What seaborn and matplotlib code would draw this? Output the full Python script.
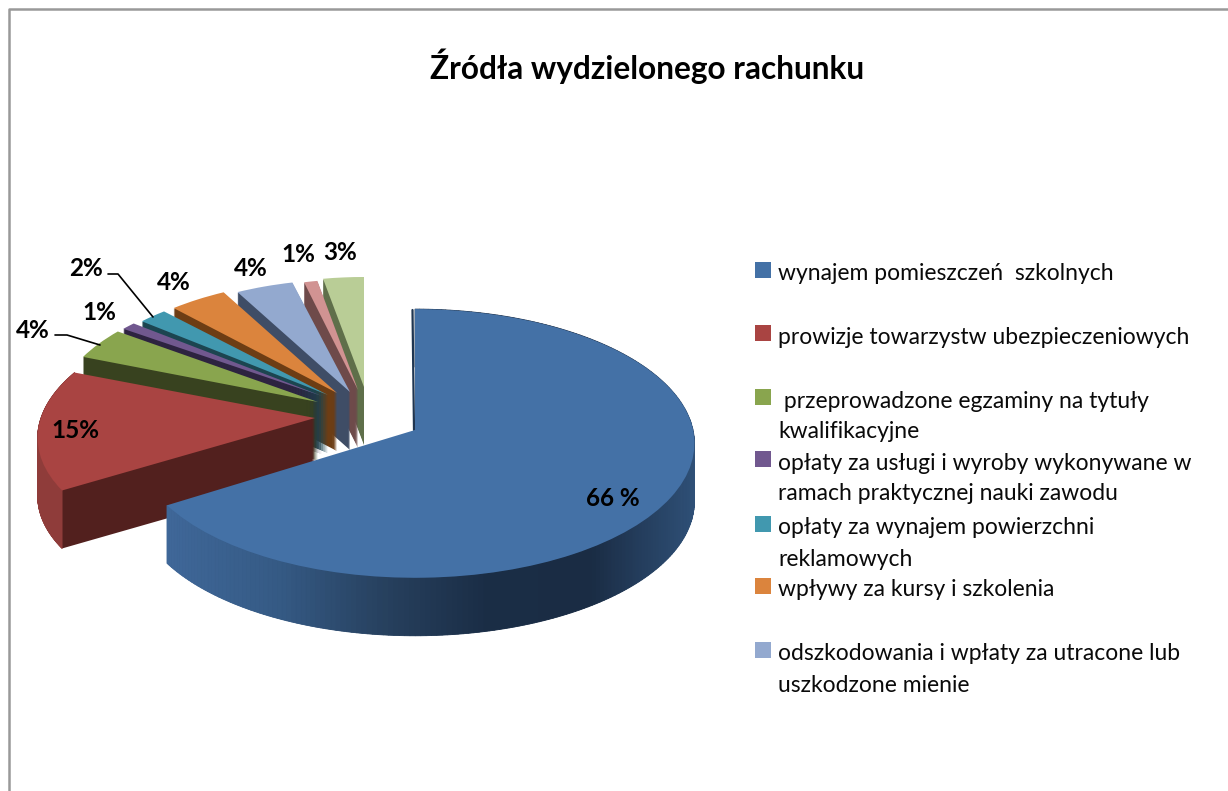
import numpy as np
import matplotlib
matplotlib.use("Agg")
import matplotlib.pyplot as plt
from matplotlib.patches import PathPatch
from matplotlib.transforms import Transform
from matplotlib.colors import LinearSegmentedColormap
import seaborn as sns

title = "Źródła wydzielonego rachunku"
values = [66, 15, 4, 1, 2, 4, 4, 1, 3]
value_labels = ["66 %", "15%", "4%", "1%", "2%", "4%", "4%", "1%", "3%"]
legend_labels = [
    "wynajem pomieszczeń  szkolnych",
    "prowizje towarzystw ubezpieczeniowych",
    " przeprowadzone egzaminy na tytuły\nkwalifikacyjne",
    "opłaty za usługi i wyroby wykonywane w\nramach praktycznej nauki zawodu",
    "opłaty za wynajem powierzchni\nreklamowych",
    "wpływy za kursy i szkolenia",
    "odszkodowania i wpłaty za utracone lub\nuszkodzone mienie",
]
top_colors = ["#4471A6", "#A94442", "#89A54E", "#71588F", "#4198AF",
              "#DB843D", "#93A9CF", "#D19392", "#B9CD96"]
side_colors = ["#2C4A6E", "#52201E", "#38421F", "#2D2340", "#1C4550",
               "#6D3D14", "#3F4D66", "#6E4A4A", "#5F6F4A"]

# layout (pixels): slice apex, radii, skew, extrusion
apex_x = [415, 315, 318, 322, 328, 337, 350, 358, 364]
apex_y = [430, 418, 402, 396, 395, 393, 392, 390, 387]
rad_x = [278, 274, 262, 260, 257, 256, 254, 238, 240]
rad_y = [133, 128, 127, 121, 123, 125, 124, 122, 121]
skew_x = [0, 15, 0, 0, 0, 0, 0, 0, 0]
persp = 0.10
depth = 58
W, H = 1228, 791

sns.set_theme(style="white")
plt.rcParams["font.family"] = ["Lato", "DejaVu Sans"]
palette = sns.color_palette(top_colors)


class Persp(Transform):
    input_dims = output_dims = 2
    is_separable = False
    has_inverse = False

    def __init__(self, cx, cy, rx, ry, s, p, dy=0.0):
        super().__init__()
        self.cx, self.cy, self.rx, self.ry, self.s, self.p, self.dy = cx, cy, rx, ry, s, p, dy

    def transform_non_affine(self, v):
        v = np.asarray(v, float)
        w = 1 + self.p * v[:, 1]
        return np.column_stack([self.cx + (self.rx * v[:, 0] + self.s * v[:, 1]) / w,
                                self.cy + self.dy - self.ry * v[:, 1] / w])


fig = plt.figure(figsize=(W / 100, H / 100), dpi=100, facecolor="white")
ax = fig.add_axes([0, 0, 1, 1])
wedges, _ = ax.pie(values, colors=palette, startangle=90, counterclock=False,
                   wedgeprops=dict(linewidth=0))
ax.set_aspect("auto")
ax.set_xlim(0, W)
ax.set_ylim(H, 0)
ax.axis("off")

blue_wall = LinearSegmentedColormap.from_list(
    "wall", ["#3F6798", "#355A85", "#27415F", "#1A2D45", "#1A2C44", "#2F5077"])

# paint far slices first, the big front slice last
for z, i in enumerate(range(len(values) - 1, -1, -1)):
    w = wedges[i]
    args = (apex_x[i], apex_y[i], rad_x[i], rad_y[i], skew_x[i], persp)
    path = w.get_path()
    for d in range(depth, 0, -1):
        ax.add_patch(PathPatch(path, transform=Persp(*args, dy=d) + ax.transData,
                               facecolor=side_colors[i], edgecolor="none",
                               zorder=z * 4 + 1))
    if i in (0, 1):
        th = np.radians(np.linspace(w.theta1, w.theta2, 240))
        unit = np.column_stack([np.cos(th), np.sin(th)])
        t = Persp(*args)
        top = t.transform_non_affine(unit)
        for a in range(len(th) - 1):
            xs = [top[a, 0], top[a + 1, 0], top[a + 1, 0], top[a, 0]]
            ys = [top[a, 1], top[a + 1, 1], top[a + 1, 1] + depth, top[a, 1] + depth]
            if i == 0:
                c = blue_wall((top[a, 0] - 170) / (695 - 170))
            else:
                c = "#8F3C3A"
            ax.fill(xs, ys, color=c, lw=0.6, zorder=z * 4 + 2)
    w.set_transform(Persp(*args) + ax.transData)
    w.set_zorder(z * 4 + 3)

# dark sliver along the 12 o'clock cut of the main slice
ax.plot([412.5, 414], [310, 430], color="#1F3550", lw=1.6, zorder=34)

# value labels
label_x = [613, 75, 33, 99, 86, 174, 251, 298, 340]
label_y = [498, 430, 331, 312, 268, 282, 268, 254, 253]
for s, x, y in zip(value_labels, label_x, label_y):
    ax.text(x, y, s, ha="center", va="center", fontsize=17.5, fontweight="bold",
            color="black", zorder=60)

# leader lines
ax.plot([55, 67, 100], [335, 335, 345], color="black", lw=1.2, zorder=55)
ax.plot([108, 118, 153], [274, 274, 317], color="black", lw=1.2, zorder=55)

# legend
legend_y = [272, 335, 399, 461, 526, 588, 652]
line_gap = 31
for lab, y, c in zip(legend_labels, legend_y, palette):
    ax.scatter([763], [y - 2], marker="s", s=133, color=c, linewidths=0, zorder=60)
    for k, line in enumerate(lab.split("\n")):
        ax.text(778, y + 2 + k * line_gap, line, ha="left", va="center", fontsize=16.5,
                color="#0A0A0A", zorder=60)

ax.text(647, 66, title, ha="center", va="center", fontsize=22.8, fontweight="bold",
        color="black", zorder=60)

# chart frame
ax.plot([9, 9, W], [H, 9, 9], color="#999999", lw=1.8, zorder=70)

fig.savefig("out.png", dpi=100, facecolor="white")
